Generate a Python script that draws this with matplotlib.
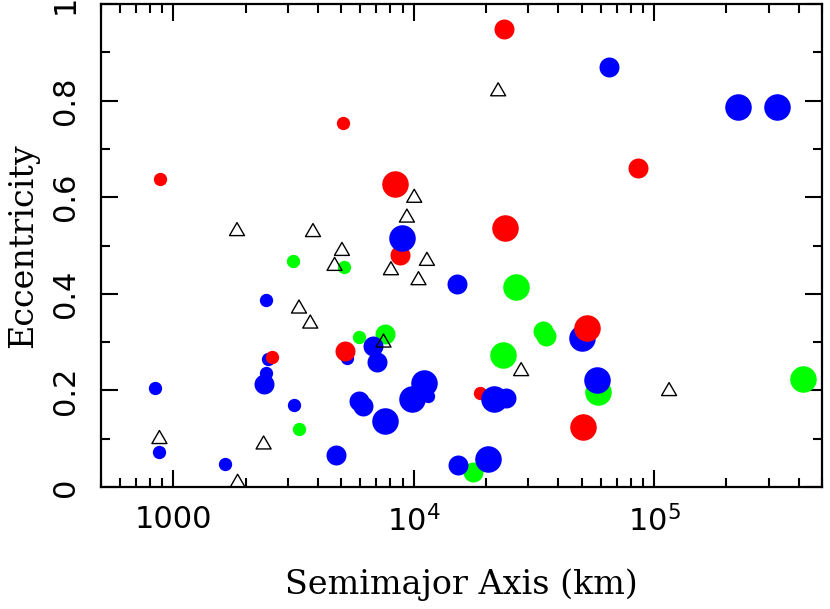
import matplotlib
matplotlib.use("Agg")
import matplotlib.pyplot as plt
from matplotlib.path import Path
from matplotlib.ticker import FixedLocator, FixedFormatter, LogLocator, NullFormatter

# semimajor axis (km), eccentricity and size class (1 small, 2 medium, 3 large)
red_a = [877, 5077, 8375, 8730, 23780, 85750, 24080, 5156, 2573, 18900, 52510, 50820]
red_e = [0.638, 0.753, 0.627, 0.481, 0.948, 0.661, 0.537, 0.281, 0.270, 0.1945, 0.329, 0.125]
red_cls = [1, 1, 3, 2, 2, 2, 3, 2, 1, 1, 3, 3]

blue_a = [65170, 222800, 324600, 8930, 15070, 2436, 2476, 2436, 2374, 842,
          3185, 872, 1641, 4762, 5275, 6763, 7031, 5934, 6149, 7587,
          11060, 11520, 9829, 21610, 24290, 15270, 20350, 50200, 57780]
blue_e = [0.870, 0.786, 0.786, 0.515, 0.421, 0.3875, 0.2655, 0.236, 0.2127, 0.204,
          0.169, 0.0716, 0.0476, 0.0668, 0.267, 0.291, 0.258, 0.179, 0.168, 0.136,
          0.215, 0.1875, 0.1827, 0.182, 0.184, 0.0447, 0.0586, 0.3095, 0.222]
blue_cls = [2, 3, 3, 3, 2, 1, 1, 1, 2, 1,
            1, 1, 1, 2, 1, 2, 2, 2, 2, 3,
            3, 1, 3, 3, 2, 2, 3, 3, 3]

green_a = [3155, 5106, 5934, 7587, 3342, 26760, 23490, 34450, 35670, 58660, 417700, 17730]
green_e = [0.468, 0.455, 0.310, 0.317, 0.1206, 0.4144, 0.273, 0.322, 0.313, 0.1957, 0.2235, 0.031]
green_cls = [1, 1, 1, 2, 1, 3, 3, 2, 2, 3, 3, 2]

tri_a = [22460, 1840, 3810, 5029, 4685, 10050, 9370, 8040, 11350, 10470,
         3332, 3712, 7487, 27990, 115500, 875, 2374, 1851]
tri_e = [0.8235, 0.534, 0.532, 0.493, 0.462, 0.603, 0.562, 0.453, 0.4724, 0.4324,
         0.3737, 0.3426, 0.3033, 0.2441, 0.2028, 0.1035, 0.0923, 0.013]

xtick_vals = [1e3, 1e4, 1e5]
xtick_labels = ["1000", r"$\mathdefault{10^4}$", r"$\mathdefault{10^5}$"]
ytick_vals = [0, 0.2, 0.4, 0.6, 0.8, 1.0]
ytick_labels = ["0", "0.2", "0.4", "0.6", "0.8", "1"]

area = {1: 92, 2: 207, 3: 365}
groups = [("#00ff00", green_a, green_e, green_cls),
          ("#0000ff", blue_a, blue_e, blue_cls),
          ("#ff0000", red_a, red_e, red_cls)]

fig = plt.figure(figsize=(8.3, 6.09), dpi=100)
ax = fig.add_axes([0.1217, 0.2003, 0.8687, 0.7931])

# smaller dots first, so the big ones sit on top
for cls in (1, 2, 3):
    for color, a, e, c in groups:
        xs = [x for x, k in zip(a, c) if k == cls]
        ys = [y for y, k in zip(e, c) if k == cls]
        ax.scatter(xs, ys, s=area[cls], color=color, linewidths=0, zorder=2)

# open triangle, closed outline
tri = Path([(-1, -0.866), (1, -0.866), (0, 0.866), (-1, -0.866)], closed=True)
ax.scatter(tri_a, tri_e, s=117, marker=tri, facecolors="none",
           edgecolors="black", linewidths=1.0, zorder=3, clip_on=False)

ax.set_xscale("log")
ax.set_xlim(500, 5e5)
ax.set_ylim(0, 1)

ax.xaxis.set_major_locator(FixedLocator(xtick_vals))
ax.xaxis.set_major_formatter(FixedFormatter(xtick_labels))
ax.xaxis.set_minor_locator(LogLocator(base=10, subs=range(2, 10), numticks=20))
ax.xaxis.set_minor_formatter(NullFormatter())
ax.yaxis.set_major_locator(FixedLocator(ytick_vals))
ax.yaxis.set_major_formatter(FixedFormatter(ytick_labels))
ax.yaxis.set_minor_locator(FixedLocator([0.1, 0.3, 0.5, 0.7, 0.9]))

for s in ax.spines.values():
    s.set_linewidth(1.6)
ax.tick_params(which="both", direction="in", top=True, right=True, width=1.5,
               labelsize=22)
ax.tick_params(which="major", length=12.5)
ax.tick_params(which="minor", length=6.5)
ax.tick_params(axis="x", which="major", pad=13)
ax.tick_params(axis="y", which="major", pad=15, labelrotation=90)
for lab in ax.get_yticklabels():
    lab.set_va("center")

ax.set_xlabel("Semimajor Axis (km)", family="DejaVu Serif", fontsize=24, labelpad=22)
ax.set_ylabel("Eccentricity", family="DejaVu Serif", fontsize=24, labelpad=9)

fig.savefig("out.png", dpi=100)
